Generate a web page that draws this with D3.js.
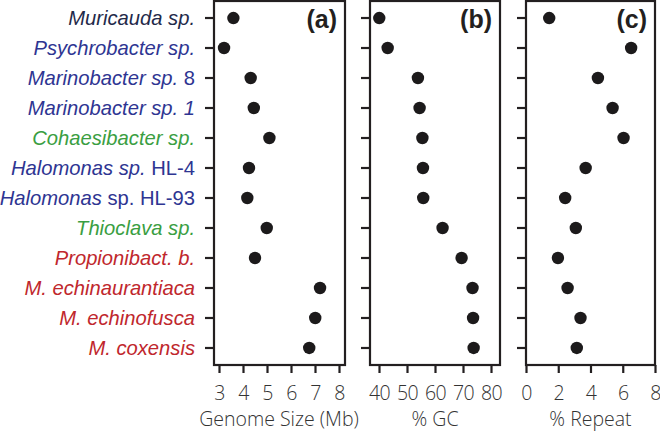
<!DOCTYPE html>
<html><head><meta charset="utf-8">
<script src="https://cdn.jsdelivr.net/npm/d3@7"></script>
<style>body{margin:0;background:#fff}svg{display:block}</style>
</head><body>
<svg id="c" width="660" height="433"></svg>
<script>
// Data
const species = ["Muricauda sp.","Psychrobacter sp.","Marinobacter sp. 8","Marinobacter sp. 1","Cohaesibacter sp.","Halomonas sp. HL-4","Halomonas sp. HL-93","Thioclava sp.","Propionibact. b.","M. echinaurantiaca","M. echinofusca","M. coxensis"];
// label parts: [text, italic]
const labelParts = [
  [["Muricauda sp.",1]],
  [["Psychrobacter sp.",1]],
  [["Marinobacter sp.",1],[" 8",0]],
  [["Marinobacter sp. 1",1]],
  [["Cohaesibacter sp.",1]],
  [["Halomonas sp.",1],[" HL-4",0]],
  [["Halomonas",1],[" sp. HL-93",0]],
  [["Thioclava sp.",1]],
  [["Propionibact. b.",1]],
  [["M. echinaurantiaca",1]],
  [["M. echinofusca",1]],
  [["M. coxensis",1]]
];
const groups = ["navy","blue","blue","blue","green","blue","blue","green","red","red","red","red"];
const genomeSize = [3.6,3.21,4.32,4.45,5.1,4.25,4.18,4.99,4.5,7.21,7.01,6.76];
const gcPercent = [40.1,43.1,53.9,54.5,55.5,55.7,55.8,62.7,69.5,73.4,73.6,73.8];
const repeatPercent = [1.44,6.52,4.46,5.37,6.05,3.70,2.43,3.09,1.98,2.58,3.38,3.15];
const ticksA = [3,4,5,6,7,8];
const ticksB = [40,50,60,70,80];
const ticksC = [0,2,4,6,8];
const panelLabels = ["(a)","(b)","(c)"];
const axisTitles = ["Genome Size (Mb)","% GC","% Repeat"];
const colorMap = {navy:"#1f2a4a", blue:"#2e3592", green:"#3a9e42", red:"#c0272d"};

const svg = d3.select("#c");
const yTop = 1, yBottom = 365;
const y = d3.scalePoint().domain(species).range([yTop,yBottom]).padding(0.567);

const panels = [
  {frame:[214,345], domain:[3,8], range:[219,339], ticks:ticksA, values:genomeSize},
  {frame:[370,500], domain:[40,80], range:[379,491], ticks:ticksB, values:gcPercent},
  {frame:[526,655], domain:[0,8], range:[526,655], ticks:ticksC, values:repeatPercent}
];

const ink = "#231f20";
panels.forEach((p,i)=>{
  const x = d3.scaleLinear().domain(p.domain).range(p.range);
  const g = svg.append("g");
  g.selectAll("line.yt").data(species).join("line")
    .attr("x1",p.frame[0]-9).attr("x2",p.frame[0])
    .attr("y1",d=>y(d)).attr("y2",d=>y(d))
    .attr("stroke",ink).attr("stroke-width",2.2);
  const ax = g.append("g").attr("transform",`translate(0,${yBottom})`)
    .call(d3.axisBottom(x).tickValues(p.ticks).tickSize(8).tickFormat(d3.format("d")));
  ax.select(".domain").remove();
  ax.selectAll(".tick line").attr("stroke",ink).attr("stroke-width",2.2);
  ax.selectAll(".tick text").attr("font-family","'Open Sans', sans-serif").attr("font-weight",300)
    .attr("font-size",19.5).attr("fill","#333").attr("y",21).attr("dy","0.72em")
    .attr("letter-spacing",-0.5);
  g.append("rect").attr("x",p.frame[0]).attr("y",yTop).attr("width",p.frame[1]-p.frame[0]).attr("height",yBottom-yTop)
    .attr("fill","none").attr("stroke",ink).attr("stroke-width",2.2);
  g.selectAll("circle").data(p.values).join("circle")
    .attr("cx",d=>x(d)).attr("cy",(d,j)=>y(species[j])).attr("r",6.2).attr("fill","#1c1a1b");
  g.append("text").attr("x",p.frame[1]-8).attr("y",28).attr("text-anchor","end")
    .attr("font-family","'Liberation Sans', Arial, sans-serif").attr("font-weight","bold").attr("font-size",25)
    .attr("fill",ink).text(panelLabels[i]);
  g.append("text").attr("x",(p.range[0]+p.range[1])/2).attr("y",426).attr("text-anchor","middle")
    .attr("font-family","'Open Sans', sans-serif").attr("font-weight",300).attr("font-size",19.5)
    .attr("fill","#333").text(axisTitles[i]);
});

const lbl = svg.append("g").selectAll("text").data(species).join("text")
  .attr("x",195).attr("y",d=>y(d)).attr("dy","0.35em").attr("text-anchor","end")
  .attr("font-family","'Liberation Sans', Arial, sans-serif").attr("font-size",20.2)
  .attr("fill",(d,i)=>colorMap[groups[i]]);
lbl.each(function(d,i){
  d3.select(this).selectAll("tspan").data(labelParts[i]).join("tspan")
    .attr("font-style",p=>p[1]?"italic":"normal").text(p=>p[0]);
});
</script>
</body></html>
